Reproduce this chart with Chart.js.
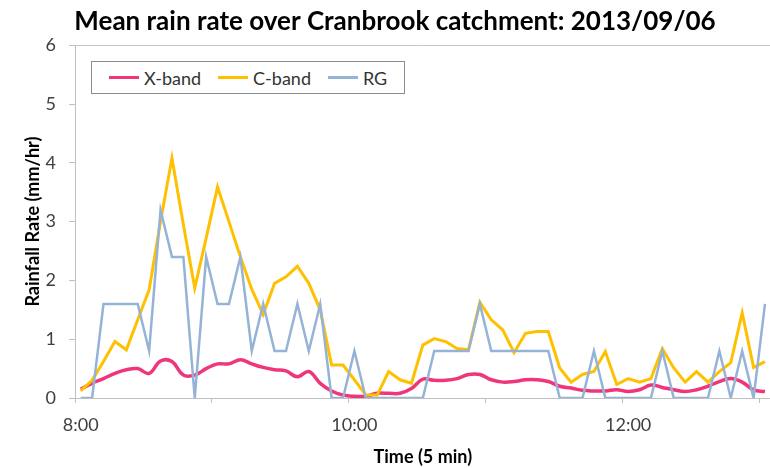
<!DOCTYPE html>
<html>
<head>
<meta charset="utf-8">
<script src="https://cdn.jsdelivr.net/npm/chart.js@4.4.1/dist/chart.umd.min.js"></script>
<style>
  html, body { margin: 0; padding: 0; background: #fff; overflow: hidden; }
  #wrap { position: relative; width: 776px; height: 468px; }
  #legend {
    position: absolute; left: 91px; top: 61px; width: 314px; height: 33px;
    border: 1px solid #8c8c8c; background: #fff;
    font-family: Lato, sans-serif; font-size: 18px; color: #333;
    display: flex; align-items: center; padding-left: 17px; box-sizing: border-box;
    white-space: nowrap;
  }
  #legend .item { display: flex; align-items: center; margin-right: 17px; flex-shrink: 0; }
  #legend .swatch { width: 30px; height: 3px; margin-right: 5px; flex-shrink: 0; }
</style>
</head>
<body>
<div id="wrap">
  <canvas id="rainChart" width="776" height="468"></canvas>
  <div id="legend"></div>
</div>
<script>
// 5-min time steps, 8:00 to 13:00
const timeLabels = [
  '8:00','8:05','8:10','8:15','8:20','8:25','8:30','8:35','8:40','8:45','8:50','8:55',
  '9:00','9:05','9:10','9:15','9:20','9:25','9:30','9:35','9:40','9:45','9:50','9:55',
  '10:00','10:05','10:10','10:15','10:20','10:25','10:30','10:35','10:40','10:45','10:50','10:55',
  '11:00','11:05','11:10','11:15','11:20','11:25','11:30','11:35','11:40','11:45','11:50','11:55',
  '12:00','12:05','12:10','12:15','12:20','12:25','12:30','12:35','12:40','12:45','12:50','12:55',
  '13:00'
];

const xBand = [
  0.15, 0.25, 0.33, 0.42, 0.48, 0.50, 0.42, 0.63, 0.62, 0.39, 0.39, 0.50,
  0.58, 0.58, 0.65, 0.58, 0.52, 0.48, 0.46, 0.36, 0.45, 0.25, 0.12, 0.05,
  0.03, 0.03, 0.08, 0.08, 0.08, 0.16, 0.32, 0.30, 0.30, 0.33, 0.40, 0.40,
  0.31, 0.27, 0.28, 0.31, 0.31, 0.28, 0.20, 0.17, 0.13, 0.12, 0.12, 0.14,
  0.11, 0.14, 0.22, 0.18, 0.14, 0.11, 0.14, 0.20, 0.28, 0.33, 0.27, 0.14,
  0.11
];

const cBand = [
  0.12, 0.30, 0.62, 0.96, 0.82, 1.33, 1.84, 3.00, 4.08, 2.95, 1.87, 2.72,
  3.59, 3.00, 2.40, 1.85, 1.42, 1.95, 2.06, 2.24, 1.95, 1.50, 0.56, 0.56,
  0.31, 0.05, 0.05, 0.45, 0.31, 0.25, 0.90, 1.01, 0.96, 0.84, 0.82, 1.63,
  1.33, 1.16, 0.77, 1.10, 1.13, 1.13, 0.51, 0.27, 0.40, 0.45, 0.79, 0.23,
  0.33, 0.27, 0.33, 0.84, 0.51, 0.27, 0.45, 0.27, 0.45, 0.60, 1.45, 0.52,
  0.62
];

const rainGauge = [
  0, 0, 1.6, 1.6, 1.6, 1.6, 0.8, 3.2, 2.4, 2.4, 0, 2.4,
  1.6, 1.6, 2.4, 0.8, 1.6, 0.8, 0.8, 1.6, 0.8, 1.6, 0, 0,
  0.8, 0, 0, 0, 0, 0, 0, 0.8, 0.8, 0.8, 0.8, 1.6,
  0.8, 0.8, 0.8, 0.8, 0.8, 0.8, 0, 0, 0, 0.8, 0, 0,
  0, 0, 0, 0.8, 0, 0, 0, 0, 0.8, 0, 0.8, 0,
  1.6
];

const yTicks = [0, 1, 2, 3, 4, 5, 6];

const FONT = 'Lato, sans-serif';
const AXIS_GREY = '#bfbfbf';

const datasets = [
  { label: 'X-band', data: xBand, borderColor: '#f0367a', borderWidth: 3.5, tension: 0.4, order: 3 },
  { label: 'C-band', data: cBand, borderColor: '#ffc000', borderWidth: 3, tension: 0, order: 2 },
  { label: 'RG', data: rainGauge, borderColor: '#95b3d7', borderWidth: 2.5, tension: 0, order: 1 }
];

function buildLegend() {
  const box = document.getElementById('legend');
  datasets.forEach(ds => {
    const item = document.createElement('div');
    item.className = 'item';
    const sw = document.createElement('span');
    sw.className = 'swatch';
    sw.style.background = ds.borderColor;
    const txt = document.createElement('span');
    txt.textContent = ds.label;
    item.appendChild(sw);
    item.appendChild(txt);
    box.appendChild(item);
  });
}

function initChart() {
  const ctx = document.getElementById('rainChart').getContext('2d');
  new Chart(ctx, {
    type: 'line',
    data: {
      labels: timeLabels,
      datasets: datasets.map(d => Object.assign({ pointRadius: 0, fill: false }, d))
    },
    options: {
      responsive: false,
      animation: false,
      devicePixelRatio: 1,
      layout: { padding: { left: 16, right: 2, top: 0, bottom: 0 } },
      plugins: {
        legend: { display: false },
        tooltip: { enabled: false },
        title: {
          display: true,
          text: 'Mean rain rate over Cranbrook catchment: 2013/09/06',
          color: '#000',
          font: { family: FONT, size: 26, weight: 'bold' },
          padding: { top: 6, bottom: 8 }
        }
      },
      scales: {
        x: {
          type: 'category',
          offset: true,
          afterFit: s => { s.height = 70; },
          border: { display: true, color: AXIS_GREY, width: 1 },
          grid: {
            offset: true,
            drawOnChartArea: false,
            drawTicks: true,
            tickLength: 5,
            tickColor: c => (c.index % 12 === 0 ? AXIS_GREY : 'rgba(0,0,0,0)')
          },
          ticks: {
            autoSkip: false,
            maxRotation: 0,
            padding: 11,
            color: '#404040',
            font: { family: FONT, size: 18 },
            callback: (v, i) => (i % 24 === 0 ? timeLabels[i] : '')
          },
          title: {
            display: true,
            text: 'Time (5 min)',
            color: '#000',
            font: { family: FONT, size: 18, weight: 'bold' },
            padding: { top: 4, bottom: 0 }
          }
        },
        y: {
          min: yTicks[0],
          max: yTicks[yTicks.length - 1],
          afterFit: s => { s.width = 59; },
          border: { display: true, color: AXIS_GREY, width: 1 },
          grid: {
            drawTicks: true,
            tickLength: 6,
            color: c => (c.tick && c.tick.value === 6 ? '#c8c8c8' : 'rgba(0,0,0,0)'),
            tickColor: AXIS_GREY
          },
          ticks: {
            stepSize: 1,
            padding: 13,
            color: '#404040',
            font: { family: FONT, size: 18 }
          },
          title: {
            display: true,
            text: 'Rainfall Rate (mm/hr)',
            color: '#000',
            font: { family: FONT, size: 18, weight: 'bold' },
            padding: { top: 6, bottom: 0 }
          }
        }
      }
    }
  });
}

window.addEventListener('load', () => {
  buildLegend();
  initChart();
});
</script>
</body>
</html>
